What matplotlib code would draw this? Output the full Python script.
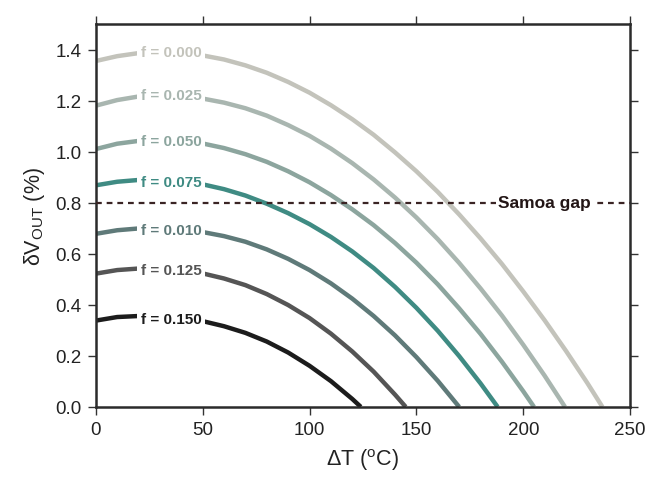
import matplotlib
matplotlib.use('agg')
import matplotlib.pyplot as plt

plt.rcParams['font.family'] = ['Liberation Sans', 'DejaVu Sans']
plt.rcParams['mathtext.default'] = 'regular'

# values
labels = ['f = 0.000', 'f = 0.025', 'f = 0.050', 'f = 0.075',
          'f = 0.010', 'f = 0.125', 'f = 0.150']
colors = ['#c3c3bb', '#a9b6b0', '#8ca59e', '#3f8b83',
          '#5f7a79', '#555555', '#1c1c1c']

dt_000 = [0, 10, 20, 30, 40, 50, 60, 70, 80, 90, 100, 110, 120, 130, 140,
          150, 160, 170, 180, 190, 200, 210, 220, 230, 237]
dv_000 = [1.355, 1.374, 1.386, 1.390, 1.387, 1.377, 1.361, 1.338, 1.309,
          1.273, 1.231, 1.182, 1.127, 1.066, 0.997, 0.923, 0.842, 0.754,
          0.660, 0.560, 0.452, 0.339, 0.219, 0.093, 0.0]

dt_025 = [0, 10, 20, 30, 40, 50, 60, 70, 80, 90, 100, 110, 120, 130, 140,
          150, 160, 170, 180, 190, 200, 210, 219.5]
dv_025 = [1.180, 1.202, 1.216, 1.220, 1.217, 1.208, 1.192, 1.170, 1.141,
          1.104, 1.062, 1.012, 0.955, 0.891, 0.820, 0.742, 0.657, 0.564,
          0.464, 0.358, 0.243, 0.122, 0.0]

dt_050 = [0, 10, 20, 30, 40, 50, 60, 70, 80, 90, 100, 110, 120, 130, 140,
          150, 160, 170, 180, 190, 200, 205]
dv_050 = [1.010, 1.031, 1.042, 1.045, 1.041, 1.032, 1.014, 0.990, 0.960,
          0.923, 0.880, 0.830, 0.774, 0.712, 0.642, 0.565, 0.480, 0.386,
          0.286, 0.177, 0.061, 0.0]

dt_075 = [0, 10, 20, 30, 40, 50, 60, 70, 80, 90, 100, 110, 120, 130, 140,
          150, 160, 170, 180, 188]
dv_075 = [0.868, 0.882, 0.889, 0.890, 0.884, 0.872, 0.853, 0.828, 0.796,
          0.759, 0.716, 0.666, 0.609, 0.544, 0.470, 0.388, 0.298, 0.199,
          0.092, 0.0]

dt_010 = [0, 10, 20, 30, 40, 50, 60, 70, 80, 90, 100, 110, 120, 130, 140,
          150, 160, 170]
dv_010 = [0.678, 0.692, 0.699, 0.700, 0.695, 0.685, 0.669, 0.647, 0.617,
          0.580, 0.536, 0.484, 0.424, 0.356, 0.280, 0.195, 0.102, 0.0]

dt_125 = [0, 10, 20, 30, 40, 50, 60, 70, 80, 90, 100, 110, 120, 130, 140, 145]
dv_125 = [0.522, 0.536, 0.542, 0.541, 0.535, 0.523, 0.503, 0.477, 0.442,
          0.399, 0.348, 0.287, 0.217, 0.138, 0.048, 0.0]

dt_150 = [0, 10, 20, 30, 40, 50, 60, 70, 80, 90, 100, 110, 120, 124]
dv_150 = [0.338, 0.352, 0.356, 0.354, 0.348, 0.336, 0.316, 0.290, 0.256,
          0.213, 0.161, 0.101, 0.031, 0.0]

curves = [(dt_000, dv_000), (dt_025, dv_025), (dt_050, dv_050),
          (dt_075, dv_075), (dt_010, dv_010), (dt_125, dv_125),
          (dt_150, dv_150)]
label_y = [1.39, 1.22, 1.04, 0.882, 0.692, 0.535, 0.345]

samoa_gap = 0.8

fig = plt.figure(figsize=(6.47, 4.81), dpi=100)
ax = fig.add_axes([0.148, 0.152, 0.826, 0.796])

for (x, y), c, lab, ly in zip(curves, colors, labels, label_y):
    ax.plot(x, y, color=c, lw=3.2, solid_capstyle='butt',
            solid_joinstyle='round', zorder=2)
    ax.text(35.3, ly, lab, color=c, fontsize=11, fontweight='bold',
            ha='center', va='center', zorder=4,
            bbox=dict(facecolor='white', edgecolor='none', pad=2.8))

ax.axhline(samoa_gap, color='#3a2424', lw=1.6, ls=(0, (2.6, 2.2)), zorder=3)
ax.text(210, samoa_gap, 'Samoa gap', color='#231616', fontsize=12.5,
        fontweight='bold', ha='center', va='center', zorder=4,
        bbox=dict(facecolor='white', edgecolor='none', pad=1.5))

ax.set_xlim(0, 250)
ax.set_ylim(0, 1.5)
ax.set_xticks([0, 50, 100, 150, 200, 250])
ax.set_yticks([0.0, 0.2, 0.4, 0.6, 0.8, 1.0, 1.2, 1.4])
ax.set_yticklabels(['0.0', '0.2', '0.4', '0.6', '0.8', '1.0', '1.2', '1.4'])
ax.tick_params(direction='out', length=6, width=1.0, color='#333333',
               labelcolor='#222222', labelsize=13.5, top=True, right=True,
               pad=4)

for s in ax.spines.values():
    s.set_linewidth(1.8)
    s.set_color('#2b2b2b')

ax.set_xlabel('ΔT ($^{o}$C)', fontsize=15.5, labelpad=6, color='#222222')
ax.set_ylabel('δV$_{OUT}$ (%)', fontsize=15.5, labelpad=6, color='#222222')

fig.savefig('out.png', dpi=100)
